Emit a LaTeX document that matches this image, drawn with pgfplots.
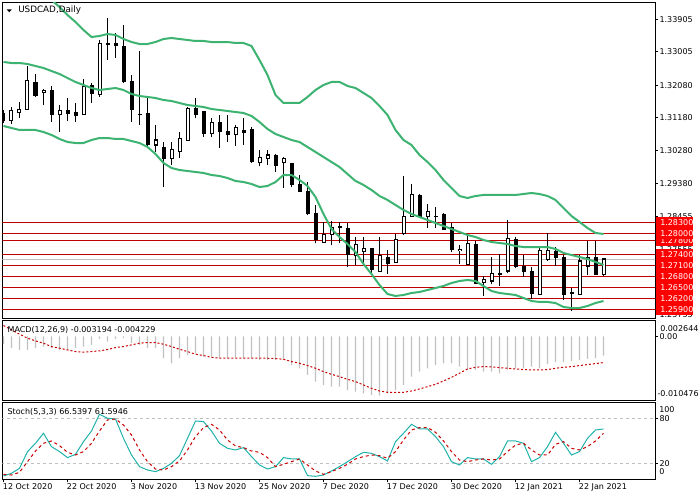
\documentclass[border=0pt]{standalone}
\usepackage{pgfplots}
\usepackage{pgfplotstable}
\pgfplotsset{compat=1.18}
\usepackage{fontspec}
\setmainfont{DejaVu Sans}
\definecolor{bbgreen}{RGB}{60,179,113}
\definecolor{hline}{RGB}{192,0,0}
\definecolor{lblred}{RGB}{255,0,0}
\definecolor{silv}{RGB}{192,192,192}
\definecolor{stochmain}{RGB}{32,178,170}
\definecolor{sigred}{RGB}{200,0,0}
\newcommand{\lab}{\fontsize{6}{7}\selectfont}

\pgfplotstableread{
x O H L C
1 1.31113 1.31472 1.31003 1.31378
2 1.31323 1.31627 1.31169 1.31417
3 1.31406 1.32620 1.31398 1.32198
5 1.31886 1.31963 1.31522 1.31941
7 1.31260 1.31535 1.30799 1.31378
10 1.31279 1.32253 1.31273 1.32040
12 1.31831 1.33329 1.31764 1.33238
19 1.30432 1.30984 1.30247 1.30570
21 1.30065 1.30523 1.29880 1.30313
22 1.30247 1.30799 1.30065 1.30617
23 1.30562 1.31467 1.30551 1.31444
26 1.30736 1.31169 1.30644 1.31058
29 1.30727 1.30984 1.30404 1.30920
32 1.29944 1.30294 1.29861 1.30082
33 1.30065 1.30294 1.29880 1.30156
35 1.29955 1.30109 1.29238 1.30046
40 1.27748 1.28316 1.27715 1.27969
41 1.27969 1.28336 1.27673 1.28151
42 1.28151 1.28316 1.27720 1.28170
44 1.27370 1.27902 1.27122 1.27693
45 1.27489 1.27902 1.27169 1.27582
47 1.26937 1.27902 1.26929 1.27370
49 1.27185 1.27977 1.27177 1.27831
50 1.27977 1.29577 1.27949 1.28473
51 1.28473 1.29356 1.28454 1.29053
53 1.28473 1.28805 1.28134 1.28592
57 1.27508 1.27673 1.27141 1.27555
58 1.27141 1.27949 1.27122 1.27720
60 1.26639 1.26818 1.26280 1.26708
61 1.26680 1.27334 1.26589 1.26893
63 1.26956 1.28363 1.26893 1.27839
67 1.26313 1.27627 1.26308 1.27516
68 1.27279 1.27996 1.27232 1.27508
71 1.26335 1.26479 1.25853 1.26349
72 1.26313 1.27398 1.26308 1.27232
73 1.27094 1.27784 1.26846 1.27323
75 1.26846 1.27323 1.26827 1.27287
}\bull

\pgfplotstableread{
x O H L C
0 1.31315 1.31398 1.31039 1.31094
4 1.32170 1.32391 1.31748 1.31784
6 1.31941 1.32068 1.31058 1.31279
8 1.31378 1.31737 1.31094 1.31296
9 1.31334 1.31599 1.31075 1.31232
11 1.32079 1.32151 1.31591 1.31847
13 1.33238 1.33927 1.32777 1.33191
14 1.33238 1.33513 1.32824 1.33171
15 1.33163 1.33742 1.32134 1.32178
16 1.32198 1.32363 1.31058 1.31417
17 1.31287 1.33025 1.30984 1.31260
18 1.31315 1.31720 1.30341 1.30451
20 1.30369 1.30523 1.29282 1.30046
24 1.31444 1.31737 1.31169 1.31279
25 1.31351 1.31370 1.30661 1.30736
27 1.31058 1.31260 1.30341 1.30799
28 1.30818 1.31260 1.30523 1.30727
30 1.30846 1.31169 1.30432 1.30782
31 1.30865 1.30937 1.29944 1.29971
34 1.30156 1.30176 1.29696 1.29861
36 1.29927 1.29949 1.29282 1.29348
37 1.29348 1.29604 1.29127 1.29144
38 1.29163 1.29403 1.28501 1.28529
39 1.28548 1.28777 1.27720 1.27811
43 1.28134 1.28272 1.27075 1.27398
46 1.27582 1.27604 1.26846 1.26984
48 1.27334 1.27536 1.26865 1.27149
52 1.29053 1.29067 1.28438 1.28454
54 1.28473 1.28730 1.28134 1.28460
55 1.28529 1.28564 1.28093 1.28107
56 1.28162 1.28272 1.27489 1.27555
59 1.27701 1.27792 1.26598 1.26617
62 1.26893 1.27417 1.26551 1.26854
64 1.27839 1.27902 1.27031 1.27075
65 1.27075 1.27398 1.26799 1.26937
66 1.26956 1.27075 1.26192 1.26341
69 1.27508 1.27627 1.27102 1.27323
70 1.27323 1.27398 1.26156 1.26313
74 1.27323 1.27784 1.26846 1.26865
}\bear

\pgfplotstableread{
x up mid lo
0 1.35535 1.32722 1.30956
1 1.35398 1.32694 1.30901
2 1.35177 1.32694 1.30846
3 1.34984 1.32667 1.30846
4 1.34791 1.32611 1.30846
5 1.34625 1.32556 1.30791
6 1.34432 1.32473 1.30708
7 1.34239 1.32391 1.30598
8 1.34018 1.32280 1.30515
9 1.33825 1.32170 1.30487
10 1.33604 1.32087 1.30487
11 1.33411 1.32004 1.30570
12 1.33439 1.31949 1.30625
13 1.33494 1.31977 1.30625
14 1.33467 1.32004 1.30598
15 1.33356 1.31949 1.30598
16 1.33273 1.31839 1.30542
17 1.33218 1.31784 1.30487
18 1.33218 1.31756 1.30377
19 1.33273 1.31729 1.30184
20 1.33356 1.31673 1.29936
21 1.33384 1.31646 1.29798
22 1.33356 1.31591 1.29742
23 1.33329 1.31536 1.29715
24 1.33301 1.31508 1.29687
25 1.33301 1.31480 1.29660
26 1.33273 1.31425 1.29604
27 1.33273 1.31398 1.29577
28 1.33273 1.31370 1.29522
29 1.33246 1.31342 1.29439
30 1.33246 1.31315 1.29411
31 1.33163 1.31232 1.29356
32 1.32777 1.31067 1.29273
33 1.32363 1.30873 1.29301
34 1.31811 1.30736 1.29411
35 1.31591 1.30653 1.29604
36 1.31591 1.30570 1.29604
37 1.31591 1.30515 1.29467
38 1.31756 1.30377 1.29301
39 1.31949 1.30239 1.28998
40 1.32087 1.30101 1.28529
41 1.32170 1.29963 1.28115
42 1.32170 1.29825 1.27894
43 1.32060 1.29632 1.27701
44 1.32004 1.29439 1.27480
45 1.31867 1.29329 1.27149
46 1.31729 1.29191 1.26873
47 1.31508 1.29025 1.26570
48 1.31260 1.28915 1.26322
49 1.30846 1.28777 1.26267
50 1.30570 1.28639 1.26294
51 1.30432 1.28529 1.26349
52 1.30156 1.28446 1.26377
53 1.29963 1.28363 1.26432
54 1.29742 1.28280 1.26487
55 1.29467 1.28198 1.26542
56 1.29246 1.28115 1.26625
57 1.29025 1.28032 1.26680
58 1.28970 1.27949 1.26708
59 1.29025 1.27894 1.26680
60 1.29053 1.27811 1.26542
61 1.29053 1.27756 1.26404
62 1.29053 1.27729 1.26349
63 1.29053 1.27701 1.26322
64 1.29053 1.27646 1.26294
65 1.29080 1.27618 1.26211
66 1.29108 1.27618 1.26129
67 1.29080 1.27618 1.26101
68 1.29025 1.27618 1.26101
69 1.28915 1.27563 1.26073
70 1.28694 1.27453 1.25963
71 1.28473 1.27398 1.25935
72 1.28308 1.27342 1.25935
73 1.28142 1.27287 1.25991
74 1.28005 1.27205 1.26073
75 1.27977 1.27122 1.26129
}\bands

\pgfplotstableread{
x m s
0 -0.00129 0.00179
1 -0.00195 0.00107
2 -0.00223 0.00036
3 -0.00223 -0.00030
4 -0.00195 -0.00074
5 -0.00168 -0.00113
6 -0.00195 -0.00168
7 -0.00223 -0.00195
8 -0.00223 -0.00223
9 -0.00195 -0.00250
10 -0.00168 -0.00261
11 -0.00140 -0.00250
12 -0.00041 -0.00239
13 -0.00085 -0.00217
14 -0.00041 -0.00184
15 -0.00030 -0.00168
16 -0.00113 -0.00140
17 -0.00140 -0.00113
18 -0.00195 -0.00102
19 -0.00195 -0.00102
20 -0.00360 -0.00129
21 -0.00443 -0.00168
22 -0.00360 -0.00212
23 -0.00305 -0.00250
24 -0.00278 -0.00294
25 -0.00333 -0.00316
26 -0.00333 -0.00344
27 -0.00360 -0.00360
28 -0.00360 -0.00360
29 -0.00349 -0.00360
30 -0.00360 -0.00360
31 -0.00360 -0.00360
32 -0.00388 -0.00360
33 -0.00388 -0.00360
34 -0.00388 -0.00366
35 -0.00388 -0.00377
36 -0.00470 -0.00415
37 -0.00525 -0.00443
38 -0.00635 -0.00481
39 -0.00745 -0.00525
40 -0.00800 -0.00580
41 -0.00828 -0.00624
42 -0.00828 -0.00663
43 -0.00883 -0.00707
44 -0.00910 -0.00745
45 -0.00938 -0.00800
46 -0.00965 -0.00855
47 -0.00976 -0.00899
48 -0.00938 -0.00921
49 -0.00883 -0.00921
50 -0.00800 -0.00921
51 -0.00663 -0.00899
52 -0.00580 -0.00866
53 -0.00525 -0.00828
54 -0.00470 -0.00789
55 -0.00443 -0.00734
56 -0.00443 -0.00674
57 -0.00498 -0.00608
58 -0.00553 -0.00536
59 -0.00553 -0.00509
60 -0.00580 -0.00498
61 -0.00580 -0.00503
62 -0.00608 -0.00514
63 -0.00553 -0.00525
64 -0.00525 -0.00536
65 -0.00525 -0.00547
66 -0.00498 -0.00553
67 -0.00525 -0.00553
68 -0.00459 -0.00547
69 -0.00426 -0.00525
70 -0.00426 -0.00509
71 -0.00404 -0.00498
72 -0.00388 -0.00481
73 -0.00371 -0.00465
74 -0.00360 -0.00448
75 -0.00316 -0.00432
}\macd

\pgfplotstableread{
x k d
0 3.1 5.3
1 6.7 4.4
2 13.3 8
3 35.6 22.2
4 46.7 36.4
5 60 46.7
6 42.2 49.8
7 35.6 43.6
8 27.6 34.7
9 32 31.1
10 48.9 35.6
11 63.1 46.7
12 85.3 63.1
13 80 77.8
14 79.1 79.1
15 53.3 71.1
16 31.1 57.8
17 15.6 37.8
18 11.1 22.2
19 8.9 12.4
20 13.3 11.1
21 20 15.6
22 30.2 23.1
23 53.3 37.8
24 76.4 55.6
25 75.6 67.6
26 63.1 72
27 46.7 64.4
28 40 51.1
29 37.8 43.1
30 40.9 40.9
31 28.9 36.4
32 17.8 34.7
33 12.4 27.6
34 15.6 15.6
35 27.6 18.7
36 25.8 22.2
37 25.8 25.8
38 3.6 17.8
39 2.7 9.8
40 4.4 5.3
41 9.8 8.9
42 15.6 13.3
43 22.2 18.7
44 28.9 25.8
45 34.7 28.9
46 33.3 31.1
47 28.9 30.2
48 23.1 26.7
49 48.9 35.6
50 60 51.1
51 72 64.4
52 65.8 67.6
53 65.8 67.6
54 55.6 61.3
55 42.2 49.8
56 22.2 35.6
57 17.8 24.4
58 27.6 22.2
59 25.8 24.4
60 25.8 25.8
61 18.7 24.4
62 28.9 25.8
63 49.8 35.6
64 49.8 44.4
65 46.7 46.7
66 22.2 37.8
67 27.6 31.1
68 42.2 31.1
69 61.3 45.3
70 46.7 48.9
71 31.1 40
72 35.6 37.8
73 53.3 42.2
74 64.4 49.8
75 65.8 60
}\stoch

\pgfplotsset{mt4/.style={
  scale only axis, width=489.375pt, xmin=-0.125, xmax=81.4375,
  anchor=north west,
  axis line style={line width=0.75pt},
  tick align=outside, major tick length=2.25pt,
  every tick/.style={black, line width=0.6pt},
  ytick pos=right, yticklabel pos=right,
  scaled x ticks=false, scaled y ticks=false,
  tick label style={font=\lab},
  yticklabel style={anchor=west, inner sep=1pt},
  xtick=\empty, clip=true}}

\begin{document}
\begin{tikzpicture}
\path[use as bounding box] (0,0) rectangle (525pt,-375pt);

% ---------------- main price panel
\begin{axis}[mt4, at={(1.875pt,-1.875pt)}, height=236.85pt,
  ymin=1.25651, ymax=1.34363,
  ytick={1.33905,1.33005,1.3208,1.3118,1.3028,1.2938,1.28455,1.27555,1.26655,1.25755},
  yticklabels={1.33905,1.33005,1.32080,1.31180,1.30280,1.29380,1.28455,1.27555,1.26655,1.25755}]
\pgfplotsinvokeforeach{1.283,1.280,1.278,1.274,1.271,1.268,1.265,1.262,1.259}{
  \addplot[hline, line width=0.75pt, forget plot] coordinates {(-1,#1) (90,#1)};}
\addplot[silv, line width=0.75pt] coordinates {(-1,1.27287) (90,1.27287)};
% wicks
\addplot[draw=none, mark=none, error bars/.cd, y dir=plus, y explicit, error mark=none,
  error bar style={draw=black, line width=0.75pt}]
  table[x=x, y=L, y error expr=\thisrow{H}-\thisrow{L}] {\bull};
\addplot[draw=none, mark=none, error bars/.cd, y dir=plus, y explicit, error mark=none,
  error bar style={draw=black, line width=0.75pt}]
  table[x=x, y=L, y error expr=\thisrow{H}-\thisrow{L}] {\bear};
% bearish bodies
\addplot[draw=none, mark=none, error bars/.cd, y dir=plus, y explicit, error mark=none,
  error bar style={draw=black, line width=3pt}]
  table[x=x, y expr=\thisrow{C}-0.00007, y error expr=\thisrow{O}-\thisrow{C}+0.00014] {\bear};
% bullish bodies
\addplot[draw=none, mark=none, error bars/.cd, y dir=plus, y explicit, error mark=none,
  error bar style={draw=black, line width=3pt}]
  table[x=x, y expr=\thisrow{O}-0.00014, y error expr=\thisrow{C}-\thisrow{O}+0.00028] {\bull};
\addplot[draw=none, mark=none, error bars/.cd, y dir=plus, y explicit, error mark=none,
  error bar style={draw=white, line width=1.5pt}]
  table[x=x, y expr=\thisrow{O}+0.00014, y error expr={max(\thisrow{C}-\thisrow{O}-0.00028,0)}] {\bull};
% Bollinger bands
\addplot[bbgreen, line width=1.5pt] table[x=x, y=up] {\bands};
\addplot[bbgreen, line width=1.5pt] table[x=x, y=mid] {\bands};
\addplot[bbgreen, line width=1.5pt] table[x=x, y=lo] {\bands};
\coordinate (r1) at (axis cs:81.4375,1.283);
\coordinate (r2) at (axis cs:81.4375,1.280);
\coordinate (r3) at (axis cs:81.4375,1.278);
\coordinate (r4) at (axis cs:81.4375,1.274);
\coordinate (r5) at (axis cs:81.4375,1.271);
\coordinate (r6) at (axis cs:81.4375,1.268);
\coordinate (r7) at (axis cs:81.4375,1.265);
\coordinate (r8) at (axis cs:81.4375,1.262);
\coordinate (r9) at (axis cs:81.4375,1.259);
\end{axis}

\foreach \n/\t in {r9/1.25900,r8/1.26200,r7/1.26500,r6/1.26800,r5/1.27100,r4/1.27400,r3/1.27800,r2/1.28000,r1/1.28300}{
  \fill[lblred] ([xshift=0.75pt,yshift=-4.125pt]\n) rectangle ([xshift=28.5pt,yshift=4.125pt]\n);
  \node[anchor=west, inner sep=0pt, text=white, font=\lab] at ([xshift=3.75pt]\n) {\t};
}
\fill[black] (5.0pt,-7.0pt) -- (8.9pt,-7.0pt) -- (6.95pt,-9.2pt) -- cycle;
\node[anchor=west, inner sep=0pt, font=\fontsize{6.6}{8}\selectfont] at (13.5pt,-7.9pt) {USDCAD,Daily};

% ---------------- MACD panel
\begin{axis}[mt4, at={(1.875pt,-240.225pt)}, height=59.775pt,
  ymin=-0.010476, ymax=0.002644, ytick={0}, yticklabels={0.00}]
\addplot[ybar, bar width=1.1pt, bar shift=0pt, fill=silv, draw=none] table[x=x, y=m] {\macd};
\addplot[sigred, line width=0.75pt, dash pattern=on 1.5pt off 1.5pt] table[x=x, y=s] {\macd};
\end{axis}
\node[anchor=west, inner sep=0pt, font=\lab] at (495pt,-246.4pt) {0.002644};
\node[anchor=west, inner sep=0pt, font=\lab] at (493pt,-295.5pt) {-0.010476};
\node[anchor=west, inner sep=0pt, font=\lab] at (5.5pt,-247.5pt) {MACD(12,26,9) -0.003194 -0.004229};

% ---------------- Stochastic panel
\begin{axis}[mt4, at={(1.875pt,-301.725pt)}, height=57.525pt,
  ymin=-0.9, ymax=101.3, ytick={20,80}, yticklabels={20,80},
  xtick={0,8,16,24,32,40,48,56,64,72}, xtick pos=bottom,
  xticklabels={12 Oct 2020,22 Oct 2020,3 Nov 2020,13 Nov 2020,25 Nov 2020,7 Dec 2020,17 Dec 2020,30 Dec 2020,12 Jan 2021,22 Jan 2021},
  xticklabel style={anchor=north west, inner sep=0pt, xshift=-0.6pt, yshift=-1.2pt}]
\addplot[silv, line width=0.75pt, dash pattern=on 2.25pt off 2.25pt] coordinates {(-1,20) (90,20)};
\addplot[silv, line width=0.75pt, dash pattern=on 2.25pt off 2.25pt] coordinates {(-1,80) (90,80)};
\addplot[stochmain, line width=0.75pt] table[x=x, y=k] {\stoch};
\addplot[sigred, line width=0.75pt, dash pattern=on 2.25pt off 2.25pt] table[x=x, y=d] {\stoch};
\end{axis}
\node[anchor=west, inner sep=0pt, font=\lab] at (494.25pt,-307pt) {100};
\node[anchor=west, inner sep=0pt, font=\lab] at (494.25pt,-353.8pt) {0};
\node[anchor=west, inner sep=0pt, font=\lab] at (5.5pt,-308.8pt) {Stoch(5,3,3) 66.5397 61.5946};
\end{tikzpicture}
\end{document}
